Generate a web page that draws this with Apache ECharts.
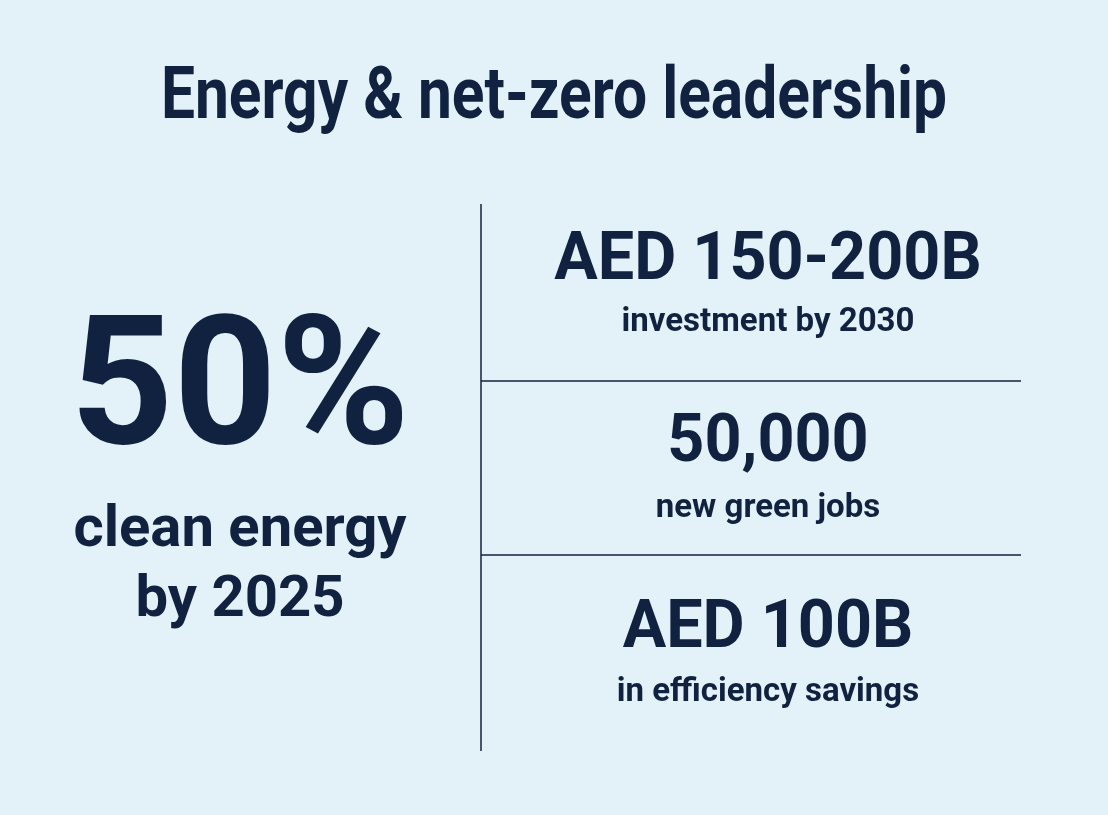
<!DOCTYPE html>
<html>
<head>
<meta charset="utf-8">
<script src="https://cdn.jsdelivr.net/npm/echarts@6/dist/echarts.min.js"></script>
<style>
html, body { margin: 0; padding: 0; background: #e3f1f8; }
#chart { width: 1108px; height: 815px; }
</style>
</head>
<body>
<div id="chart"></div>
<script>
// texts of the infographic
const title = 'Energy & net-zero leadership';
const heroValue = '50%';
const heroLabel = ['clean energy', 'by 2025'];
const statValues = ['AED 150-200B', '50,000', 'AED 100B'];
const statLabels = ['investment by 2030', 'new green jobs', 'in efficiency savings'];

const navy = '#10223f';
const font = 'Roboto';

function txt(x, y, text, size, weight, sx) {
	return {
		type: 'text', x: x, y: y, scaleX: sx,
		style: {
			x: 0, y: 0, text: text, fill: navy,
			font: weight + ' ' + size + 'px ' + font,
			textAlign: 'center', textVerticalAlign: 'middle'
		}
	};
}

let chart = echarts.init(document.getElementById('chart'));
let items = [];
items.push(txt(554, 100, title, 72, 'bold', 0.84));
items.push(txt(240, 398, heroValue, 180, 'bold', 1.0));
items.push(txt(240, 531, heroLabel[0], 58, 'bold', 1.0));
items.push(txt(240, 601, heroLabel[1], 58, 'bold', 1.0));

// right column blocks
let rowY = [262, 444, 630];
let subY = [323, 509, 693];
statValues.forEach(function (v, i) {
	items.push(txt(768, rowY[i], v, 66, 'bold', 0.98));
	items.push(txt(768, subY[i], statLabels[i], 33, 'bold', 1.0));
});

// dividers
items.push({ type: 'line', shape: { x1: 481, y1: 204, x2: 481, y2: 751 }, style: { stroke: navy, lineWidth: 1.5 } });
items.push({ type: 'line', shape: { x1: 481, y1: 381, x2: 1021, y2: 381 }, style: { stroke: navy, lineWidth: 1.5 } });
items.push({ type: 'line', shape: { x1: 481, y1: 555, x2: 1021, y2: 555 }, style: { stroke: navy, lineWidth: 1.5 } });

chart.setOption({
	backgroundColor: '#e3f1f8',
	graphic: { elements: items }
});
</script>
</body>
</html>
